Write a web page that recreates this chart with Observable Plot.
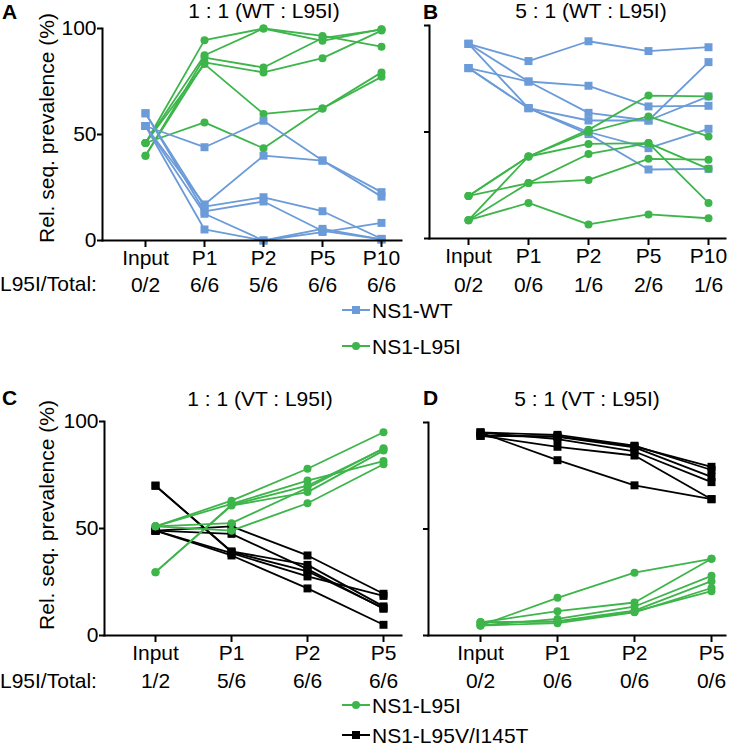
<!DOCTYPE html>
<html>
<head>
<meta charset="utf-8">
<script src="https://cdn.jsdelivr.net/npm/d3@7"></script>
<script src="https://cdn.jsdelivr.net/npm/@observablehq/plot@0.6"></script>
<style>
  html, body { margin: 0; padding: 0; background: #fff; }
  #root { position: relative; width: 733px; height: 746px; font-family: "Liberation Sans", Arial, sans-serif; color: #000; overflow: hidden; }
  .t { position: absolute; font-size: 21px; line-height: 21px; white-space: nowrap; }
  .c { transform: translateX(-50%); }
  .r { transform: translate(-50%, -50%) rotate(-90deg); }
  .b { font-weight: bold; }
  .panel { position: absolute; }
  .leg { position: absolute; display: flex; align-items: center; font-size: 21px; line-height: 21px; white-space: nowrap; }
</style>
</head>
<body>
<div id="root"></div>
<script>
// ---------- data ----------
const catsAB = ["Input", "P1", "P2", "P5", "P10"];
const catsCD = ["Input", "P1", "P2", "P5"];
const totalsA = ["0/2", "6/6", "5/6", "6/6", "6/6"];
const totalsB = ["0/2", "0/6", "1/6", "2/6", "1/6"];
const totalsC = ["1/2", "5/6", "6/6", "6/6"];
const totalsD = ["0/2", "0/6", "0/6", "0/6"];
const titles = ["1 : 1 (WT : L95I)", "5 : 1 (WT : L95I)", "1 : 1 (VT : L95I)", "5 : 1 (VT : L95I)"];
const letters = ["A", "B", "C", "D"];

// Panel A (1:1 WT : L95I), one array per replicate
const A_WT = [
  [54, 5.2, 0, 4, 8.3],
  [54, 12.6, 0, 5.5, 0.5],
  [60, 13.7, 18.4, 4.5, 0.5],
  [60, 16, 20.4, 13.8, 0.8],
  [54, 17, 40, 37.7, 20.7],
  [54, 44, 56.5, 37.7, 22.8]
];
const A_L95I = [
  [46, 94.5, 100, 96.5, 91.4],
  [46, 87.4, 100, 94.2, 99.7],
  [40, 86.3, 81.6, 95.5, 99.5],
  [40, 84, 79.3, 86, 99],
  [46, 83.2, 59.7, 62.3, 79.3],
  [46, 55.7, 43.5, 62.3, 77.2]
];
// Panel B (5:1 WT : L95I)
const B_WT = [
  [91.4, 83.3, 92.6, 88, 89.8],
  [91.4, 73.7, 71.7, 62, 62.3],
  [80, 73.7, 59, 55.4, 82.8],
  [91.4, 61.2, 55.4, 55.4, 66.7],
  [80, 61.2, 49, 32.4, 32.7],
  [80, 61.2, 50, 42.4, 51.5]
];
const B_L95I = [
  [8.6, 16.7, 6.6, 11.3, 9.5],
  [8.6, 26, 27.5, 37.4, 37],
  [20, 26, 39.7, 44.8, 16.7],
  [8.6, 38.5, 44.4, 44.8, 32.7],
  [20, 38.5, 51, 67.1, 66.7],
  [20, 38.5, 50, 57.3, 47.9]
];
// Panel C (1:1 VT : L95I)
const C_L95I = [
  [51, 63, 77.9, 95],
  [51, 61.5, 72.4, 81.5],
  [29.6, 61, 70, 87.2],
  [29.6, 60.7, 67, 86.4],
  [51, 49, 61.8, 80],
  [51, 52.5, 69, 87.5]
];
const C_VT = [
  [49, 37.4, 22, 5],
  [49, 38.5, 27.6, 18.5],
  [70, 39, 30, 12.8],
  [70, 39.3, 33, 13.6],
  [49, 51, 37.4, 19.5],
  [49, 47.5, 31, 12.5]
];
// Panel D (5:1 VT : L95I)
const D_L95I = [
  [4.7, 17.7, 29.5, 36],
  [6.2, 11.4, 15.5, 36],
  [4.7, 7.8, 13.6, 28],
  [6.2, 6.7, 11.7, 25.5],
  [4.7, 5.8, 10.9, 22.3],
  [6.2, 6.5, 11.2, 20.8]
];
const D_VT = [
  [95.3, 82.3, 70.5, 64],
  [93.8, 88.6, 84.5, 64],
  [95.3, 92.2, 86.4, 72],
  [93.8, 93.3, 88.3, 74.5],
  [95.3, 94.2, 89.1, 77.7],
  [93.8, 93.5, 88.8, 79.2]
];

const blue = "#6b9bd8", green = "#3db54a", black = "#000000";
const yLabel = "Rel. seq. prevalence (%)";

// ---------- helpers ----------
const root = document.getElementById("root");
function tidy(cats, reps) {
  return reps.flatMap((vals, r) => vals.map((v, i) => ({x: cats[i], y: v, rep: r})));
}
function addText(str, x, baseline, cls = "") {
  const el = document.createElement("div");
  el.className = "t " + cls;
  el.textContent = str;
  el.style.left = x + "px";
  el.style.top = (baseline - 18) + "px";
  root.appendChild(el);
}
function addRotated(str, cx, cy) {
  const el = document.createElement("div");
  el.className = "t r";
  el.textContent = str;
  el.style.left = cx + "px";
  el.style.top = cy + "px";
  root.appendChild(el);
}
function seriesMarks(cats, reps, color, symbol, r) {
  const data = tidy(cats, reps);
  return [
    Plot.line(data, {x: "x", y: "y", z: "rep", stroke: color, strokeWidth: 1.8}),
    Plot.dot(data, {x: "x", y: "y", symbol, r, fill: color, stroke: "none"})
  ];
}
function panel(cfg) {
  const fracMap = new Map(cfg.cats.map((c, i) => [c, cfg.totals[i]]));
  const svg = Plot.plot({
    width: cfg.width, height: cfg.height,
    marginLeft: cfg.ml, marginRight: cfg.mr, marginTop: cfg.mt, marginBottom: cfg.mb,
    style: {fontSize: "21px", fontFamily: "Liberation Sans, Arial, sans-serif", background: "transparent", overflow: "visible"},
    x: {type: "point", domain: cfg.cats, range: cfg.xr, padding: 0},
    y: {domain: [0, 100]},
    marks: [
      ...cfg.series.flatMap(s => seriesMarks(cfg.cats, s.reps, s.color, s.symbol, s.r)),
      Plot.frame({anchor: "left", strokeWidth: 2}),
      Plot.frame({anchor: "bottom", strokeWidth: 2}),
      Plot.axisY({
        ticks: [0, 50, 100], tickSize: 5, tickPadding: 1, strokeWidth: 2,
        tickFormat: cfg.yTicks ? (d => String(d)) : (() => ""),
        label: null
      }),
      Plot.axisX({tickSize: 7, tickPadding: 3, strokeWidth: 2, label: null}),
      Plot.axisX({tickSize: 0, tickPadding: cfg.fracPad, tickFormat: d => fracMap.get(d), label: null})
    ]
  });
  svg.classList.add("panel");
  svg.style.left = cfg.left + "px";
  svg.style.top = cfg.top + "px";
  root.appendChild(svg);
}
function legendItem(label, color, symbol, x, cy) {
  const el = document.createElement("div");
  el.className = "leg";
  el.style.left = x + "px";
  el.style.top = (cy - 11) + "px";
  el.style.height = "22px";
  const ns = "http://www.w3.org/2000/svg";
  const s = document.createElementNS(ns, "svg");
  s.setAttribute("width", 30); s.setAttribute("height", 12);
  const ln = document.createElementNS(ns, "line");
  ln.setAttribute("x1", 0); ln.setAttribute("x2", 28); ln.setAttribute("y1", 6); ln.setAttribute("y2", 6);
  ln.setAttribute("stroke", color); ln.setAttribute("stroke-width", 2);
  s.appendChild(ln);
  let m;
  if (symbol === "square") {
    m = document.createElementNS(ns, "rect");
    m.setAttribute("x", 10); m.setAttribute("y", 2); m.setAttribute("width", 8); m.setAttribute("height", 8);
  } else {
    m = document.createElementNS(ns, "circle");
    m.setAttribute("cx", 14); m.setAttribute("cy", 6); m.setAttribute("r", 4);
  }
  m.setAttribute("fill", color);
  s.appendChild(m);
  el.appendChild(s);
  const sp = document.createElement("span");
  sp.textContent = label;
  el.appendChild(sp);
  root.appendChild(el);
}

// ---------- panels ----------
panel({cats: catsAB, totals: totalsA, left: 0, top: 0, width: 410, height: 300, ml: 102, mr: 9, mt: 28, mb: 60,
  xr: [143, 382], yTicks: true, fracPad: 37,
  series: [{reps: A_L95I, color: green, symbol: "circle", r: 4}, {reps: A_WT, color: blue, symbol: "square", r: 4.5}]});
panel({cats: catsAB, totals: totalsB, left: 410, top: 0, width: 323, height: 300, ml: 19, mr: 8, mt: 25, mb: 62,
  xr: [58, 298], yTicks: false, fracPad: 39,
  series: [{reps: B_WT, color: blue, symbol: "square", r: 4.5}, {reps: B_L95I, color: green, symbol: "circle", r: 4}]});
panel({cats: catsCD, totals: totalsC, left: 0, top: 400, width: 410, height: 300, ml: 104, mr: 9, mt: 21, mb: 65,
  xr: [154, 383], yTicks: true, fracPad: 38,
  series: [{reps: C_VT, color: black, symbol: "square", r: 4.5}, {reps: C_L95I, color: green, symbol: "circle", r: 4}]});
panel({cats: catsCD, totals: totalsD, left: 410, top: 400, width: 323, height: 300, ml: 18, mr: 8, mt: 22, mb: 65,
  xr: [70, 301], yTicks: false, fracPad: 38,
  series: [{reps: D_VT, color: black, symbol: "square", r: 4.5}, {reps: D_L95I, color: green, symbol: "circle", r: 4}]});

// ---------- titles, letters, axis titles, row labels ----------
addText(letters[0], 2, 19, "b");
addText(letters[1], 423, 19, "b");
addText(letters[2], 2, 405, "b");
addText(letters[3], 423, 405, "b");
addText(titles[0], 264, 18, "c");
addText(titles[1], 591, 18, "c");
addText(titles[2], 260, 406, "c");
addText(titles[3], 587, 406, "c");
addRotated(yLabel, 46, 128);
addRotated(yLabel, 46, 515);
addText("L95I/Total:", 0, 291);
addText("L95I/Total:", 0, 688);

// ---------- legends ----------
legendItem("NS1-WT", blue, "square", 342, 310);
legendItem("NS1-L95I", green, "circle", 342, 346);
legendItem("NS1-L95I", green, "circle", 342, 705);
legendItem("NS1-L95V/I145T", black, "square", 342, 735);
</script>
</body>
</html>
